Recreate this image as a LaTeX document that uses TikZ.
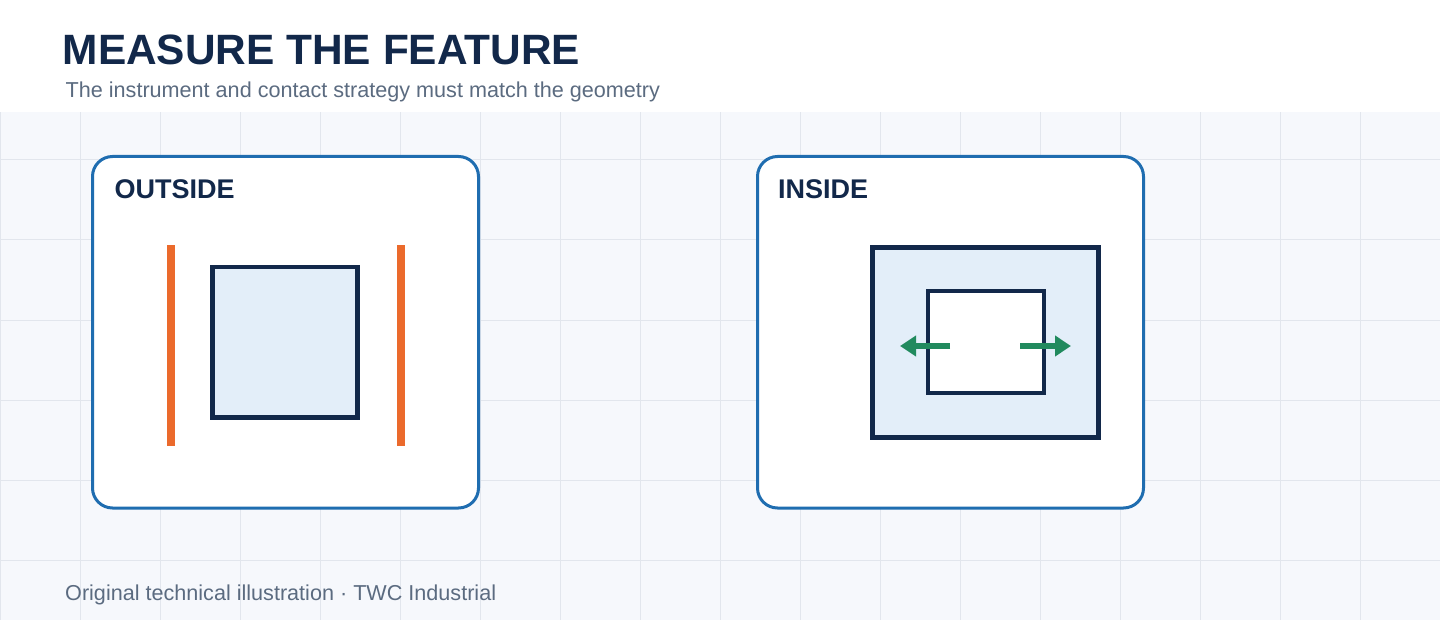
\documentclass[tikz,border=0pt]{standalone}
\usepackage{fontspec}
\setmainfont{Liberation Sans}
\usetikzlibrary{arrows.meta}
\definecolor{bgc}{HTML}{F6F8FC}
\definecolor{gridc}{HTML}{E2E6ED}
\definecolor{panelc}{HTML}{1F6DB0}
\definecolor{navy}{HTML}{12284A}
\definecolor{lightfill}{HTML}{E3EEF9}
\definecolor{orangec}{HTML}{EB6A2C}
\definecolor{greenc}{HTML}{218A5E}
\definecolor{grayt}{HTML}{5B6B80}
\tikzset{
  panel/.style={draw=panelc, line width=3pt, fill=white, rounded corners=20pt,
    minimum width=386pt, minimum height=351.5pt, inner sep=0pt},
  paneltitle/.style={anchor=base west, inner sep=0pt, text=navy,
    font=\fontsize{27}{30}\selectfont\bfseries},
  part/.style={draw=navy, line width=4.5pt, fill=lightfill, inner sep=0pt},
  bar/.style={fill=orangec, inner sep=0pt, minimum width=8pt, minimum height=201pt},
  probe/.style={draw=greenc, line width=6pt, -{Triangle[length=16pt,width=20pt]}},
  smalltext/.style={anchor=base west, inner sep=0pt, text=grayt,
    font=\fontsize{21.6}{25}\selectfont}
}
\begin{document}
\begin{tikzpicture}[x=1pt,y=-1pt]
\useasboundingbox (0,0) rectangle (1440,620);
% background and grid
\fill[bgc] (0,0) rectangle (1440,620);
\foreach \gx in {0,80,...,1440} \draw[gridc, line width=1pt] (\gx,112) -- (\gx,620);
\foreach \gy in {160,240,...,560} \draw[gridc, line width=1pt] (0,\gy) -- (1440,\gy);
\fill[white] (0,0) rectangle (1440,112);
% header
\node[anchor=base west, inner sep=0pt, text=navy, font=\fontsize{42.4}{48}\selectfont\bfseries] (title) at (62.5,65) {MEASURE THE FEATURE};
\node[smalltext] (subtitle) at (65.5,98) {The instrument and contact strategy must match the geometry};
% panels
\node[panel] (pout) at (285.5,332.25) {};
\node[panel] (pin) at (950.5,332.25) {};
\node[paneltitle] (tout) at (114.5,199) {OUTSIDE};
\node[paneltitle] (tin) at (778,199) {INSIDE};
% outside
\node[bar] (barl) at (171,345.5) {};
\node[bar] (barr) at (401,345.5) {};
\node[part, minimum width=145pt, minimum height=150pt] (sq) at (285,342.25) {};
% inside
\node[part, minimum width=226pt, minimum height=190pt] (hole) at (985.5,342.5) {};
\node[draw=navy, line width=4pt, fill=white, inner sep=0pt, minimum width=116pt, minimum height=101pt] (bore) at (985.5,342) {};
\coordinate (la) at (950,346);
\coordinate (lb) at (900,346);
\coordinate (ra) at (1020,346);
\coordinate (rb) at (1071,346);
\draw[probe] (la) -- (lb);
\draw[probe] (ra) -- (rb);
% footer
\node[smalltext] (footer) at (65,600.5) {Original technical illustration · TWC Industrial};
\end{tikzpicture}
\end{document}
